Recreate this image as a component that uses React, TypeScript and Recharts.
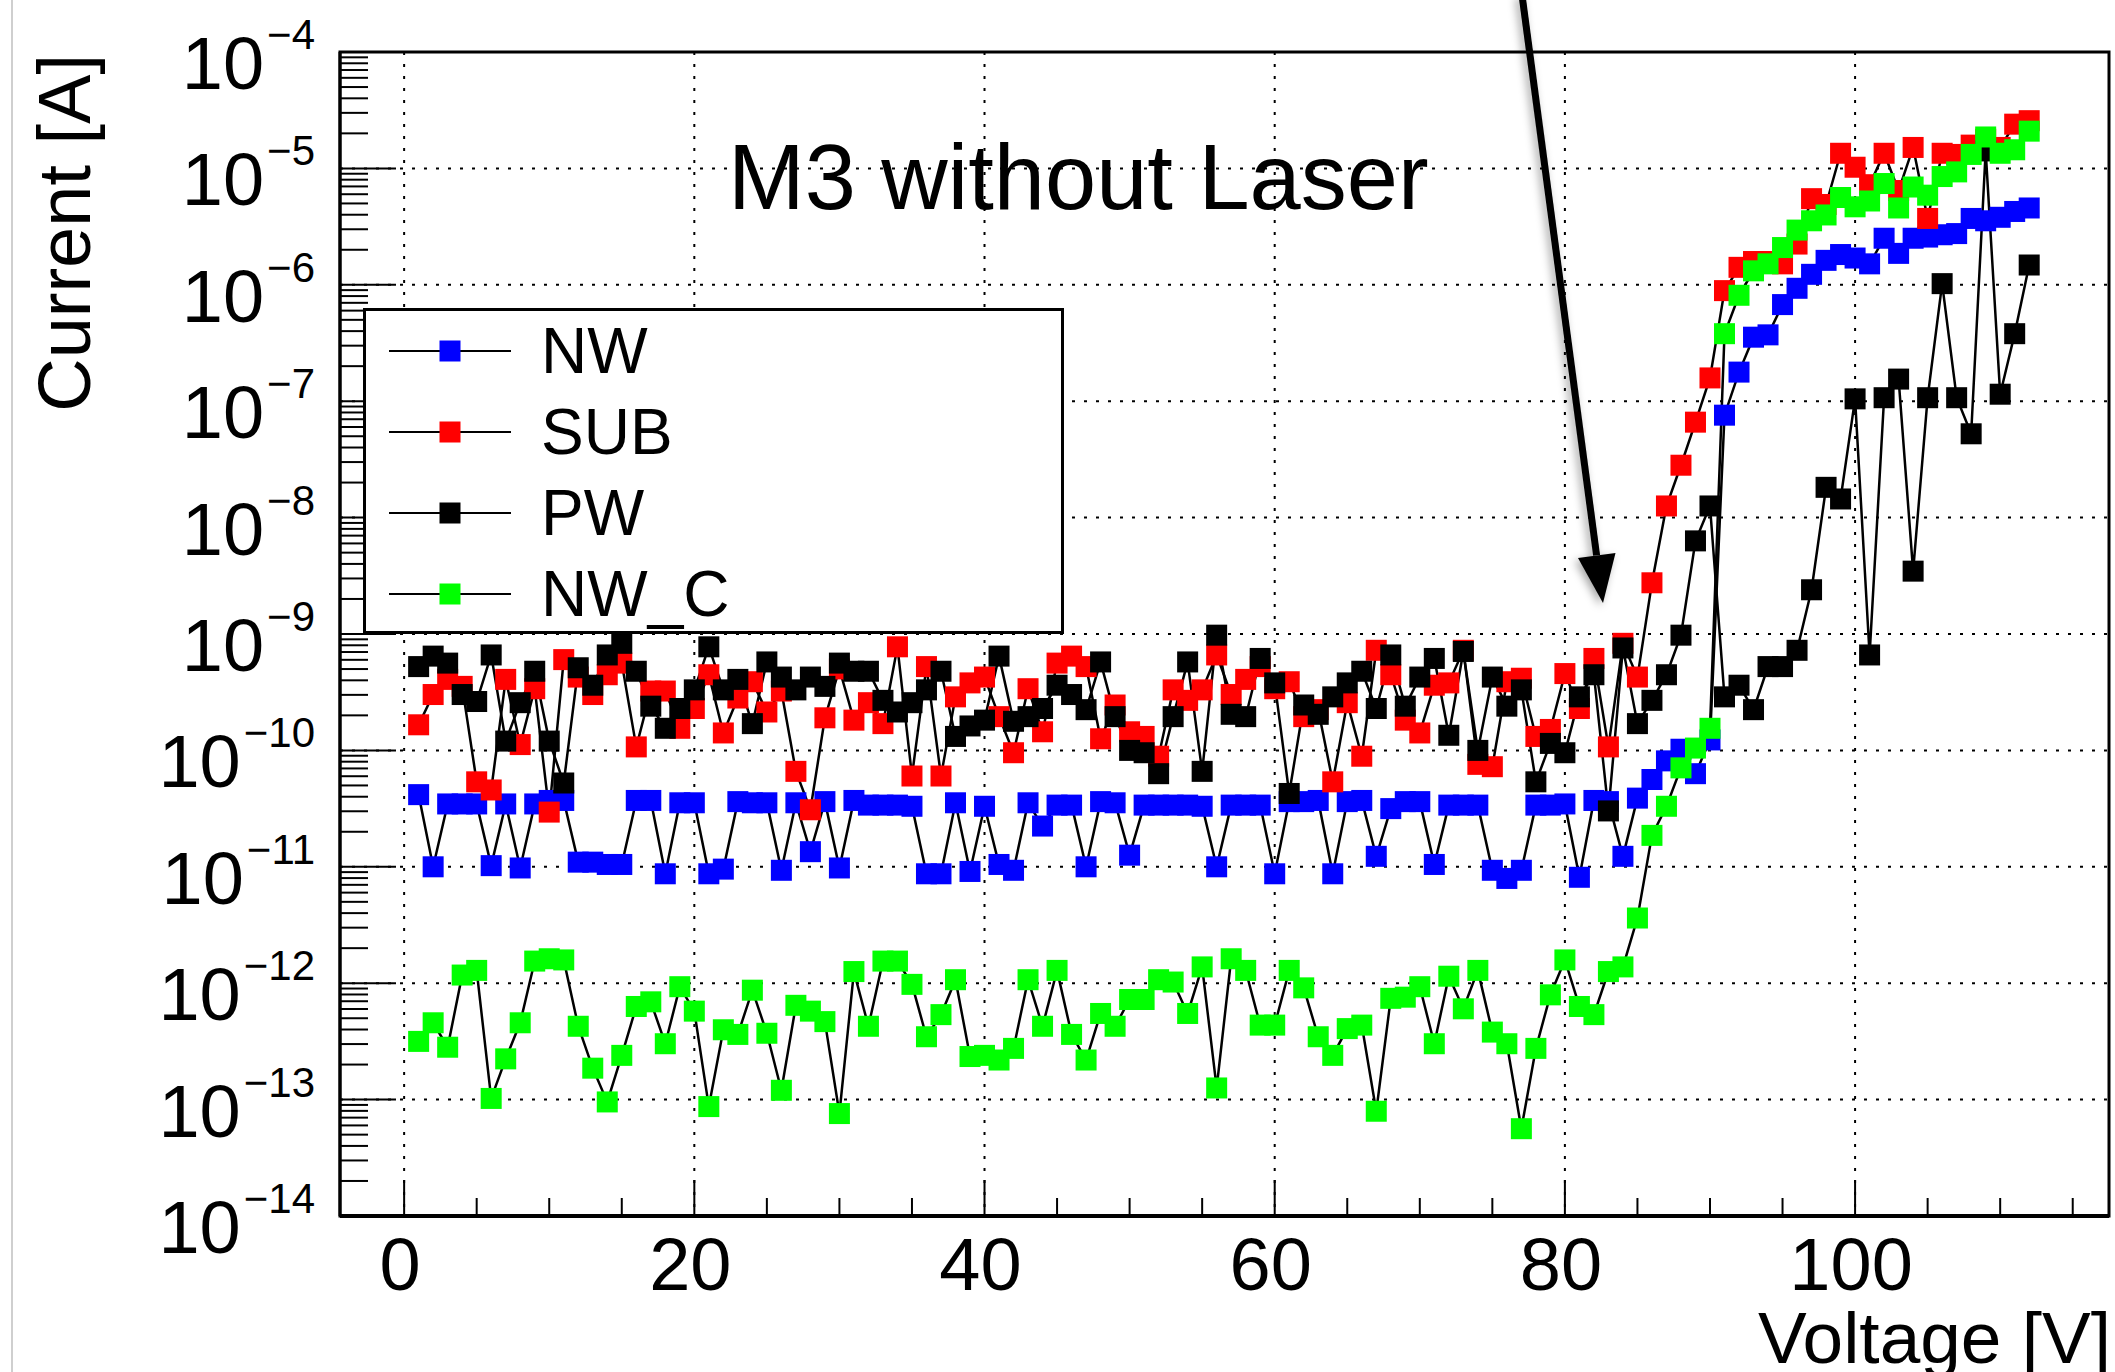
import React from "react";
import {
  LineChart,
  Line,
  XAxis,
  YAxis,
  CartesianGrid,
  Legend,
  ReferenceArea,
} from "recharts";

const FONT = '"Liberation Sans", Arial, Helvetica, sans-serif';

// bias voltage [V]
const voltage = [
  1, 2, 3, 4, 5, 6, 7, 8, 9, 10, 11, 12, 13, 14, 15, 16, 17, 18, 19, 20,
  21, 22, 23, 24, 25, 26, 27, 28, 29, 30, 31, 32, 33, 34, 35, 36, 37, 38, 39, 40,
  41, 42, 43, 44, 45, 46, 47, 48, 49, 50, 51, 52, 53, 54, 55, 56, 57, 58, 59, 60,
  61, 62, 63, 64, 65, 66, 67, 68, 69, 70, 71, 72, 73, 74, 75, 76, 77, 78, 79, 80,
  81, 82, 83, 84, 85, 86, 87, 88, 89, 90, 91, 92, 93, 94, 95, 96, 97, 98, 99, 100,
  101, 102, 103, 104, 105, 106, 107, 108, 109, 110, 111, 112,
];

// log10 of current [A]
const nwLog = [
  -10.38, -11.0, -10.46, -10.46, -10.46, -10.99, -10.46, -11.01, -10.46, -10.43,
  -10.43, -10.96, -10.96, -10.98, -10.98, -10.43, -10.43, -11.06, -10.45, -10.45,
  -11.06, -11.02, -10.44, -10.45, -10.45, -11.03, -10.45, -10.87, -10.44, -11.01,
  -10.43, -10.47, -10.47, -10.47, -10.48, -11.06, -11.06, -10.45, -11.04, -10.48,
  -10.98, -11.03, -10.45, -10.65, -10.47, -10.47, -11.0, -10.44, -10.45, -10.9,
  -10.47, -10.47, -10.47, -10.47, -10.48, -11.0, -10.47, -10.47, -10.47, -11.06,
  -10.44, -10.44, -10.43, -11.06, -10.44, -10.43, -10.91, -10.5, -10.44, -10.44,
  -10.98, -10.47, -10.47, -10.47, -11.03, -11.1, -11.03, -10.47, -10.47, -10.46,
  -11.09, -10.43, -10.44, -10.91, -10.41, -10.25, -10.09, -9.99, -10.2, -9.91,
  -7.12, -6.75, -6.45, -6.43, -6.17, -6.03, -5.91, -5.79, -5.74, -5.77,
  -5.82, -5.6, -5.73, -5.6, -5.59, -5.57, -5.56, -5.43, -5.45, -5.42,
  -5.37, -5.34,
];

const subLog = [
  -9.78, -9.52, -9.39, -9.45, -10.27, -10.34, -9.39, -9.95, -9.47, -10.53,
  -9.22, -9.37, -9.52, -9.35, -9.25, -9.97, -9.49, -9.49, -9.81, -9.64,
  -9.35, -9.85, -9.55, -9.41, -9.67, -9.49, -10.18, -10.51, -9.72, -9.3,
  -9.74, -9.59, -9.77, -9.11, -10.22, -9.28, -10.22, -9.54, -9.42, -9.37,
  -9.71, -10.02, -9.47, -9.84, -9.25, -9.19, -9.28, -9.9, -9.61, -9.84,
  -9.88, -10.05, -9.48, -9.57, -9.48, -9.18, -9.52, -9.39, -9.28, -9.47,
  -9.41, -9.71, -9.65, -10.27, -9.59, -10.05, -9.14, -9.35, -9.74, -9.85,
  -9.44, -9.42, -9.14, -10.12, -10.14, -9.41, -9.38, -9.88, -9.82, -9.34,
  -9.64, -9.21, -9.97, -9.08, -9.37, -8.56, -7.9, -7.55, -7.18, -6.8,
  -6.05, -5.85, -5.8, -5.8, -5.82, -5.65, -5.26, -5.31, -4.87, -4.99,
  -5.14, -4.87, -5.19, -4.82, -5.43, -4.87, -4.88, -4.8, -4.75, -4.82,
  -4.62, -4.59,
];

const pwLog = [
  -9.28, -9.19, -9.25, -9.52, -9.58, -9.18, -9.92, -9.59, -9.32, -9.92,
  -10.28, -9.29, -9.44, -9.18, -9.08, -9.32, -9.62, -9.81, -9.64, -9.48,
  -9.11, -9.48, -9.39, -9.77, -9.24, -9.37, -9.48, -9.37, -9.45, -9.25,
  -9.32, -9.32, -9.57, -9.67, -9.59, -9.48, -9.32, -9.88, -9.79, -9.74,
  -9.19, -9.75, -9.71, -9.64, -9.44, -9.52, -9.65, -9.24, -9.71, -10.0,
  -10.02, -10.2, -9.71, -9.24, -10.18, -9.01, -9.69, -9.71, -9.21, -9.42,
  -10.37, -9.61, -9.69, -9.54, -9.42, -9.32, -9.64, -9.18, -9.62, -9.37,
  -9.21, -9.87, -9.15, -10.0, -9.37, -9.62, -9.48, -10.27, -9.94, -10.02,
  -9.54, -9.35, -10.52, -9.12, -9.77, -9.57, -9.35, -9.01, -8.2, -7.9,
  -9.54, -9.44, -9.65, -9.28, -9.28, -9.14, -8.62, -7.74, -7.84, -6.98,
  -9.18, -6.97, -6.81, -8.46, -6.97, -5.99, -6.97, -7.28, -4.85, -6.94,
  -6.42, -5.83,
];

const nwcLog = [
  -12.5, -12.34, -12.55, -11.93, -11.89, -12.99, -12.65, -12.34, -11.81, -11.79,
  -11.8, -12.37, -12.73, -13.02, -12.62, -12.2, -12.16, -12.52, -12.03, -12.24,
  -13.06, -12.4, -12.44, -12.06, -12.43, -12.92, -12.19, -12.24, -12.33, -13.12,
  -11.9, -12.37, -11.81, -11.81, -12.01, -12.46, -12.27, -11.97, -12.63, -12.62,
  -12.66, -12.56, -11.97, -12.37, -11.89, -12.44, -12.66, -12.26, -12.37, -12.14,
  -12.14, -11.97, -11.99, -12.26, -11.86, -12.9, -11.79, -11.89, -12.36, -12.36,
  -11.89, -12.04, -12.46, -12.62, -12.39, -12.36, -13.1, -12.13, -12.12, -12.03,
  -12.52, -11.94, -12.22, -11.89, -12.42, -12.52, -13.25, -12.56, -12.1, -11.8,
  -12.2, -12.27, -11.9, -11.86, -11.44, -10.73, -10.48, -10.15, -9.98, -9.81,
  -6.42, -6.09, -5.88, -5.82, -5.68, -5.53, -5.45, -5.4, -5.25, -5.33,
  -5.28, -5.13, -5.34, -5.16, -5.23, -5.07, -5.03, -4.88, -4.73, -4.87,
  -4.84, -4.68,
];

const series = [
  { key: "NW", color: "#0000ff", values: nwLog },
  { key: "SUB", color: "#ff0000", values: subLog },
  { key: "PW", color: "#000000", values: pwLog },
  { key: "NW_C", color: "#00ff00", values: nwcLog },
];

// axis ticks
const xMajorTicks = [0, 20, 40, 60, 80, 100];
const xTicks = [0, 5, 10, 15, 20, 25, 30, 35, 40, 45, 50, 55, 60, 65, 70, 75, 80, 85, 90, 95, 100, 105, 110, 115];
const yDecades = [-14, -13, -12, -11, -10, -9, -8, -7, -6, -5, -4];
const yMinorSteps = [2, 3, 4, 5, 6, 7, 8, 9];

const yMajorValues = yDecades.map((e) => Math.pow(10, e));
const yTicks: number[] = [];
yDecades.forEach((e, i) => {
  yTicks.push(Math.pow(10, e));
  if (i < yDecades.length - 1) yMinorSteps.forEach((m) => yTicks.push(m * Math.pow(10, e)));
});

const data = voltage.map((v, i) => {
  const row: Record<string, number> = { v };
  series.forEach((s) => {
    row[s.key] = Math.pow(10, s.values[i]);
  });
  return row;
});

const isDecade = (v: number) => {
  const l = Math.log10(v);
  return Math.abs(l - Math.round(l)) < 1e-6;
};

function YTick(props: any) {
  const { x, y, payload } = props;
  const major = isDecade(payload.value);
  const exp = Math.round(Math.log10(payload.value));
  return (
    <g>
      <line x1={x} x2={x + (major ? 56 : 28)} y1={y} y2={y} stroke="#000" strokeWidth={2} />
      {major && (
        <text x={x - 25} y={y + 37} textAnchor="end" fontFamily={FONT} fill="#000">
          <tspan fontSize={74}>10</tspan>
          <tspan fontSize={42} dx={3} dy={-40}>
            {"\u2212" + Math.abs(exp)}
          </tspan>
        </text>
      )}
    </g>
  );
}

function XTick(props: any) {
  const { x, y, payload } = props;
  const major = xMajorTicks.includes(payload.value);
  return (
    <g>
      <line x1={x} x2={x} y1={y} y2={y - (major ? 36 : 18)} stroke="#000" strokeWidth={2} />
      {major && (
        <text x={x - 4} y={y + 74} textAnchor="middle" fontFamily={FONT} fontSize={74} fill="#000">
          {payload.value}
        </text>
      )}
    </g>
  );
}

const squareDot = (color: string) => (props: any) => {
  const { cx, cy, index } = props;
  if (cx == null || cy == null) return <g key={`n-${color}-${index}`} />;
  return <rect key={`d-${color}-${index}`} x={cx - 10.5} y={cy - 10.5} width={21} height={21} fill={color} />;
};

function LegendBox() {
  const rowY = [43, 124, 205, 286];
  return (
    <div
      style={{
        width: 701,
        height: 326,
        boxSizing: "border-box",
        border: "3px solid #000",
        background: "#fff",
      }}
    >
      <svg width={695} height={320} style={{ display: "block" }}>
        {series.map((s, i) => (
          <g key={s.key} transform={`translate(-3, ${rowY[i] - 3})`}>
            <line x1={26} x2={148} y1={0} y2={0} stroke="#000" strokeWidth={2} />
            <rect x={76.5} y={-10.5} width={21} height={21} fill={s.color} />
            <text x={178} y={22} fontFamily={FONT} fontSize={64} fill="#000">
              {s.key}
            </text>
          </g>
        ))}
      </svg>
    </div>
  );
}

export default function App() {
  return (
    <div style={{ position: "absolute", left: 0, top: 0, width: 2115, height: 1372, background: "#fff", overflow: "hidden" }}>
      <div style={{ position: "absolute", left: 11, top: 0, width: 2, height: 1372, background: "#cfcfcf" }} />
      <LineChart width={2115} height={1372} data={data} margin={{ top: 52, right: 6, bottom: 0, left: 0 }}>
        <CartesianGrid
          horizontalValues={yMajorValues}
          verticalValues={xMajorTicks}
          stroke="#000"
          strokeWidth={2}
          strokeDasharray="3 9"
        />
        <XAxis
          dataKey="v"
          type="number"
          domain={[-4.42, 117.5]}
          allowDataOverflow
          ticks={xTicks}
          interval={0}
          tickSize={0}
          tickMargin={0}
          tickLine={false}
          tick={(p: any) => <XTick {...p} />}
          axisLine={{ stroke: "#000", strokeWidth: 4 }}
          height={156}
        />
        <YAxis
          type="number"
          scale="log"
          domain={[1e-14, 1e-4]}
          allowDataOverflow
          ticks={yTicks}
          interval={0}
          tickSize={0}
          tickMargin={0}
          tickLine={false}
          tick={(p: any) => <YTick {...p} />}
          axisLine={{ stroke: "#000", strokeWidth: 3 }}
          width={340}
        />
        <ReferenceArea
          x1={-4.42}
          x2={117.5}
          y1={1e-14}
          y2={1e-4}
          fill="none"
          stroke="#000"
          strokeWidth={3}
          ifOverflow="visible"
        />
        {series.map((s) => (
          <Line
            key={s.key}
            dataKey={s.key}
            name={s.key}
            type="linear"
            stroke="#000"
            strokeWidth={2.5}
            dot={squareDot(s.color)}
            activeDot={false}
            isAnimationActive={false}
          />
        ))}
        <Legend
          layout="horizontal"
          verticalAlign="middle"
          align="center"
          wrapperStyle={{ left: 363, top: 308, width: 701, height: 326 }}
          content={() => <LegendBox />}
        />
      </LineChart>
      <svg
        width={2115}
        height={1372}
        style={{ position: "absolute", left: 0, top: 0, pointerEvents: "none" }}
      >
        <defs>
          <filter id="arrowShadow" x="-50%" y="-20%" width="200%" height="140%">
            <feDropShadow dx={-3} dy={3} stdDeviation={4} floodColor="#000" floodOpacity={0.35} />
          </filter>
        </defs>
        <text
          transform="rotate(-90)"
          x={-54}
          y={90}
          textAnchor="end"
          fontFamily={FONT}
          fontSize={74}
          fill="#000"
        >
          Current [A]
        </text>
        <text x={2111} y={1363} textAnchor="end" fontFamily={FONT} fontSize={73} fill="#000">
          Voltage [V]
        </text>
        <text x={728} y={209} fontFamily={FONT} fontSize={92} fill="#000">
          M3 without Laser
        </text>
        <g filter="url(#arrowShadow)">
          <line x1={1522} y1={-5} x2={1596.6} y2={555.4} stroke="#000" strokeWidth={7} />
          <polygon points="1603,603 1615.5,553 1578,558" fill="#000" />
        </g>
      </svg>
    </div>
  );
}
